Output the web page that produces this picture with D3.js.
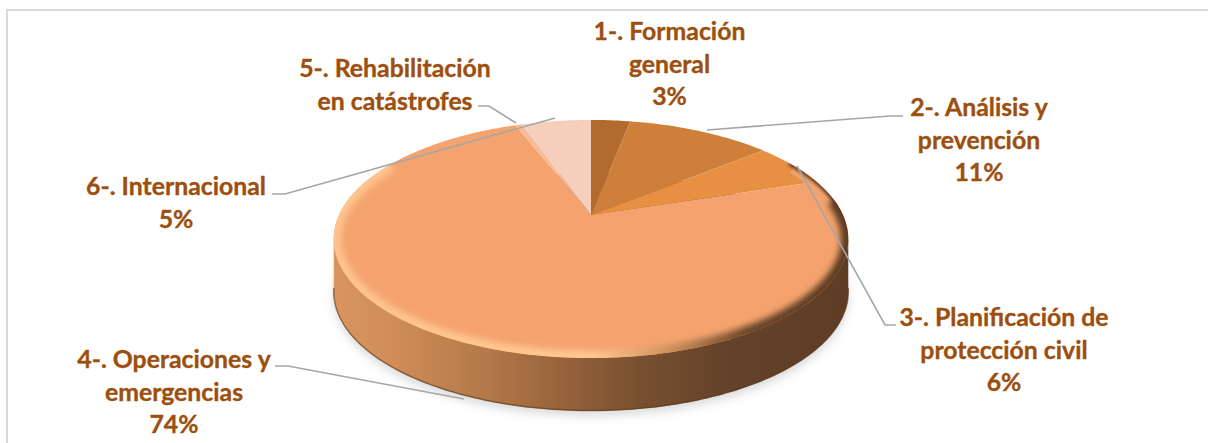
<!DOCTYPE html>
<html><head><meta charset="utf-8">
<script src="https://cdn.jsdelivr.net/npm/d3@7"></script>
<style>html,body{margin:0;padding:0;background:#fff}svg{display:block}text{font-family:Lato,"Open Sans",sans-serif;font-weight:700;font-size:24.8px;fill:#9c4f0e;stroke:#9c4f0e;stroke-width:.35px}</style>
</head><body><div id="c"></div>
<script>
const categories=["1-. Formación general","2-. Análisis y prevención","3-. Planificación de protección civil","4-. Operaciones y emergencias","5-. Rehabilitación en catástrofes","6-. Internacional"];
const values=[3,11,6,74.2,0.5,5.3];
const colors=["#b36a2e","#ce7f3a","#e78f42","#f4a36e","#f6bb98","#f6cfbc"];
const labelLines=[["1-. Formación","general","3%"],["2-. Análisis y","prevención","11%"],["3-. Planificación de","protección civil","6%"],["4-. Operaciones y","emergencias","74%"],["5-. Rehabilitación","en catástrofes"],["6-. Internacional","5%"]];
const labelAnchors=[[669.5,40],[979,116],[1004,326],[174,368],[395,77],[176,195]];
const leaderPaths=[null,[[707,130],[890,116],[903,116]],[[797,166],[885,325],[896,325]],[[464,399],[288,366],[275,366]],[[516,123],[489,106],[478,106]],[[555,118],[285,194],[272,194]]];

const W=1208,H=443,cx=591,cy=215,R=252,K=114.2,P=0.2017,depth=53;
const svg=d3.select("#c").append("svg").attr("width",W).attr("height",H);
const defs=svg.append("defs");
function rim(a){const w=1+P*Math.cos(a);return [cx+R*Math.sin(a)/w, cy-K*Math.cos(a)/w];}
const line=d3.line();
const rad=d=>d*Math.PI/180;
const full=line(d3.range(0,360).map(d=>rim(rad(d))))+"Z";
const arcs=d3.pie().value(d=>d).sort(null)(values);

// frame: top and left rules only
svg.append("path").attr("d",`M7,${H}V10H${W}`).attr("fill","none").attr("stroke","#d9d9d9").attr("stroke-width",2);

// shadow
defs.append("filter").attr("id","sh").attr("x","-20%").attr("y","-20%").attr("width","140%").attr("height","140%").append("feGaussianBlur").attr("stdDeviation",5);
const mkBlur=(id,s)=>defs.append("filter").attr("id",id).attr("filterUnits","userSpaceOnUse").attr("x",300).attr("y",80).attr("width",600).attr("height",320).append("feGaussianBlur").attr("stdDeviation",s);
mkBlur("bv",3.2);mkBlur("bt",1.5);
svg.append("path").attr("d",full).attr("transform",`translate(0,${depth+5})`).attr("fill","#bdbdbd").attr("opacity",.55).attr("filter","url(#sh)");

// wall
const wg=defs.append("linearGradient").attr("id","wall").attr("gradientUnits","userSpaceOnUse").attr("x1",335).attr("x2",848).attr("y1",0).attr("y2",0);
[[0,"#d8965e"],[.12,"#cf8c57"],[.3,"#b27849"],[.45,"#96623b"],[.6,"#78502f"],[.75,"#65422a"],[1,"#5f3d25"]].forEach(s=>wg.append("stop").attr("offset",s[0]).attr("stop-color",s[1]));
const samples=d3.range(0,360).map(d=>rim(rad(d)));
const iR=samples.reduce((m,p)=>p[0]>m[0]?p:m), iL=samples.reduce((m,p)=>p[0]<m[0]?p:m);
svg.append("path").attr("d",full).attr("transform",`translate(0,${depth})`).attr("fill","url(#wall)");
svg.append("path").attr("d",line([iL,[iL[0],iL[1]+depth],[iR[0],iR[1]+depth],iR])+"Z").attr("fill","url(#wall)");
svg.append("path").attr("d",line(d3.range(100,261).map(d=>rim(rad(d))).map(p=>[p[0],p[1]+depth-.5]))).attr("fill","none").attr("stroke","#5a3a22").attr("stroke-width",1.5).attr("opacity",.6);

// top slices
svg.append("g").selectAll("path").data(arcs).join("path").attr("fill",(d,i)=>colors[i]).attr("d",d=>{
  const n=Math.max(2,Math.ceil((d.endAngle-d.startAngle)*60));
  const pts=d3.range(n+1).map(k=>rim(d.startAngle+(d.endAngle-d.startAngle)*k/n));
  return line([[cx,cy],...pts])+"Z";
});

// bevel
const cp=defs.append("clipPath").attr("id","topclip");cp.append("path").attr("d",full);
const bg=defs.append("linearGradient").attr("id","bev").attr("gradientUnits","userSpaceOnUse").attr("x1",335).attr("y1",300).attr("x2",848).attr("y2",230);
[[0,"#ffc48e"],[.48,"#ffc890"],[.62,"#d0935f"],[.78,"#6a4428"],[1,"#5a3a22"]].forEach(s=>bg.append("stop").attr("offset",s[0]).attr("stop-color",s[1]));
const clipG=svg.append("g").attr("clip-path","url(#topclip)");
clipG.append("path").attr("d",line(d3.range(62,100).map(d=>rim(rad(d))))).attr("fill","none").attr("stroke",colors[3]).attr("stroke-width",16);
clipG.append("path").attr("d",line(d3.range(60,88).map(d=>rim(rad(d))))).attr("fill","none").attr("stroke","#6a4428").attr("stroke-width",5).attr("filter","url(#bt)");
clipG.append("path").attr("d",line(d3.range(82,300).map(d=>rim(rad(d))))).attr("fill","none").attr("stroke","url(#bev)").attr("stroke-width",15).attr("filter","url(#bv)");

// leaders
svg.append("g").selectAll("path").data(leaderPaths.filter(Boolean)).join("path").attr("d",d=>line(d)).attr("fill","none").attr("stroke","#a6a6a6").attr("stroke-width",1.6);

// labels
const lg=svg.append("g").selectAll("text").data(labelLines).join("text").attr("text-anchor","middle");
lg.selectAll("tspan").data((d,i)=>d.map((t,j)=>({t,j,i}))).join("tspan").attr("x",d=>labelAnchors[d.i][0]).attr("y",d=>labelAnchors[d.i][1]+d.j*32.5).text(d=>d.t);
</script></body></html>
